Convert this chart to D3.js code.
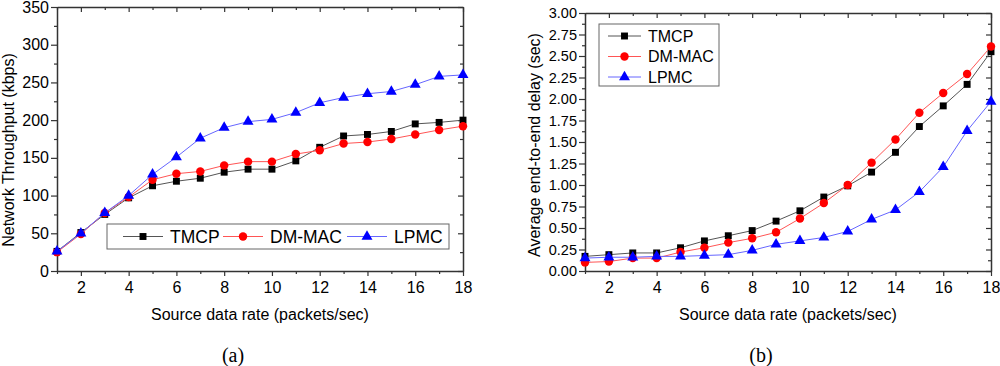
<!DOCTYPE html>
<meta charset="utf-8">
<head>
<style>
body { margin: 0; background: #fff; }
svg { display: block; }
text { font-family: Arial, "Liberation Sans", sans-serif; fill: #000; }
.axis path, .axis line { stroke: #333; }
.axis path { stroke-width: 1.5; }
.axis line { stroke-width: 1.2; }
.caption { font-family: "Times New Roman", "Liberation Serif", serif; font-size: 20px; }
</style>
</head>
<body>
<svg width="1000" height="366"></svg>
<script src="https://cdn.jsdelivr.net/npm/d3@7"></script>
<script>

var rates = [1, 2, 3, 4, 5, 6, 7, 8, 9, 10, 11, 12, 13, 14, 15, 16, 17, 18];
var seriesNames = ["TMCP", "DM-MAC", "LPMC"];

// (a) network throughput, kbps
var thrTMCP  = [26, 51, 75, 97, 113, 119, 123, 131, 135, 135, 146, 164, 179, 181, 185, 195, 197, 200];
var thrDMMAC = [25, 49, 77, 98, 121, 129, 132, 140, 145, 145, 155, 160, 169, 171, 175, 181, 187, 192];
var thrLPMC  = [26, 50, 77, 100, 128, 151, 176, 190, 198, 201, 210, 223, 230, 235, 238, 247, 258, 260];

// (b) average end-to-end delay, sec
var delTMCP  = [0.17, 0.19, 0.21, 0.21, 0.27, 0.35, 0.41, 0.47, 0.58, 0.70, 0.86, 0.99, 1.15, 1.38, 1.68, 1.92, 2.17, 2.55];
var delDMMAC = [0.10, 0.11, 0.15, 0.15, 0.22, 0.27, 0.33, 0.38, 0.45, 0.61, 0.79, 1.00, 1.26, 1.53, 1.84, 2.07, 2.29, 2.61];
var delLPMC  = [0.15, 0.16, 0.16, 0.17, 0.17, 0.18, 0.19, 0.24, 0.31, 0.35, 0.39, 0.46, 0.60, 0.71, 0.92, 1.21, 1.63, 1.97];

var xTicks = [2, 4, 6, 8, 10, 12, 14, 16, 18];
var thrTicks = [0, 50, 100, 150, 200, 250, 300, 350];
var delTicks = [0, 0.25, 0.5, 0.75, 1, 1.25, 1.5, 1.75, 2, 2.25, 2.5, 2.75, 3];

var styles = [
  { line: "#555", fill: "#000", marker: d3.symbolSquare, size: 48 },
  { line: "#ff5555", fill: "#ff0000", marker: d3.symbolCircle, size: 56 },
  { line: "#6666ff", fill: "#0000ff", marker: d3.symbolTriangle, size: 52 }
];

var svg = d3.select("svg");

function panel(o) {
  var x = d3.scaleLinear().domain([1, 18]).range([o.left, o.right]),
      y = d3.scaleLinear().domain(o.ydomain).range([o.bottom, o.top]);
  var g = svg.append("g");

  // minor ticks
  var xMinor = d3.range(1, 19).filter(function(d) { return d % 2; }),
      yMinor = o.yticks.slice(0, -1).map(function(d, i) { return (d + o.yticks[i + 1]) / 2; });

  g.append("g").attr("class", "axis")
      .attr("transform", "translate(0," + o.bottom + ")")
      .call(d3.axisBottom(x).tickValues(xTicks).tickSize(5).tickSizeOuter(0).tickPadding(6))
      .call(function(s) { s.selectAll("text").style("font-size", "16px"); });
  g.append("g").attr("class", "axis")
      .attr("transform", "translate(0," + o.bottom + ")")
      .call(d3.axisBottom(x).tickValues(xMinor).tickSize(3).tickFormat(""))
      .select("path").remove();
  g.append("g").attr("class", "axis")
      .attr("transform", "translate(0," + o.top + ")")
      .call(d3.axisBottom(x).tickValues(xTicks).tickSize(5).tickSizeOuter(0).tickFormat(""));
  g.append("g").attr("class", "axis")
      .attr("transform", "translate(0," + o.top + ")")
      .call(d3.axisBottom(x).tickValues(xMinor).tickSize(3).tickFormat(""))
      .select("path").remove();

  g.append("g").attr("class", "axis")
      .attr("transform", "translate(" + o.left + ",0)")
      .call(d3.axisLeft(y).tickValues(o.yticks).tickSize(6).tickSizeOuter(0).tickPadding(2).tickFormat(o.fmt))
      .call(function(s) { s.selectAll("text").style("font-size", o.yfont); });
  g.append("g").attr("class", "axis")
      .attr("transform", "translate(" + o.left + ",0)")
      .call(d3.axisLeft(y).tickValues(yMinor).tickSize(3).tickFormat(""))
      .select("path").remove();
  g.append("g").attr("class", "axis")
      .attr("transform", "translate(" + o.right + ",0)")
      .call(d3.axisLeft(y).tickValues(o.yticks).tickSize(5).tickSizeOuter(0).tickFormat(""));
  g.append("g").attr("class", "axis")
      .attr("transform", "translate(" + o.right + ",0)")
      .call(d3.axisLeft(y).tickValues(yMinor).tickSize(3).tickFormat(""))
      .select("path").remove();

  var line = d3.line().x(function(d, i) { return x(rates[i]); }).y(function(d) { return y(d); });

  o.series.forEach(function(vals, k) {
    var st = styles[k];
    g.append("path").datum(vals)
        .attr("fill", "none").attr("stroke", st.line).attr("stroke-width", 1)
        .attr("d", line);
    g.selectAll(null).data(vals).enter().append("path")
        .attr("transform", function(d, i) { return "translate(" + x(rates[i]) + "," + y(d) + ")"; })
        .attr("d", d3.symbol(st.marker, st.size))
        .attr("fill", st.fill);
  });

  g.append("text")
      .attr("x", (o.left + o.right) / 2).attr("y", o.bottom + 49)
      .attr("text-anchor", "middle").style("font-size", "16px")
      .text("Source data rate (packets/sec)");
  g.append("text")
      .attr("transform", "translate(" + o.ylabelX + "," + o.ylabelY + ") rotate(-90)")
      .attr("text-anchor", "middle").style("font-size", "16px")
      .text(o.ylabel);
  g.append("text").attr("class", "caption")
      .attr("x", o.captionX).attr("y", 362)
      .attr("text-anchor", "middle")
      .text(o.caption);

  // legend
  var lg = g.append("g");
  lg.append("rect")
      .attr("x", o.legend.x).attr("y", o.legend.y)
      .attr("width", o.legend.w).attr("height", o.legend.h)
      .attr("fill", "#fff").attr("stroke", "#666").attr("stroke-width", 1);
  seriesNames.forEach(function(name, k) {
    var p = o.legend.items[k], st = styles[k];
    lg.append("line")
        .attr("x1", p[0]).attr("x2", p[0] + o.legend.len)
        .attr("y1", p[1]).attr("y2", p[1])
        .attr("stroke", st.line).attr("stroke-width", 1);
    lg.append("path")
        .attr("transform", "translate(" + (p[0] + o.legend.len / 2) + "," + p[1] + ")")
        .attr("d", d3.symbol(st.marker, st.size))
        .attr("fill", st.fill);
    lg.append("text")
        .attr("x", p[0] + o.legend.len + 7).attr("y", p[1])
        .attr("dy", "0.36em").style("font-size", o.legend.font)
        .text(name);
  });
}

panel({
  left: 57, right: 463, top: 7, bottom: 271,
  ydomain: [0, 350], yticks: thrTicks, fmt: d3.format("d"), yfont: "16px",
  series: [thrTMCP, thrDMMAC, thrLPMC],
  ylabel: "Network Throughput (kbps)", ylabelX: 14, ylabelY: 150,
  caption: "(a)", captionX: 233,
  legend: { x: 107, y: 224, w: 342, h: 25, len: 40, font: "17.5px",
            items: [[123, 236.5], [223, 236.5], [347, 236.5]] }
});

panel({
  left: 585, right: 991, top: 13, bottom: 271,
  ydomain: [0, 3], yticks: delTicks, fmt: d3.format(".2f"), yfont: "14.5px",
  series: [delTMCP, delDMMAC, delLPMC],
  ylabel: "Average end-to-end delay (sec)", ylabelX: 540, ylabelY: 145,
  caption: "(b)", captionX: 761,
  legend: { x: 599, y: 24, w: 120, h: 62, len: 33, font: "16px",
            items: [[608, 36], [608, 56.5], [608, 77]] }
});

</script>
</body>
